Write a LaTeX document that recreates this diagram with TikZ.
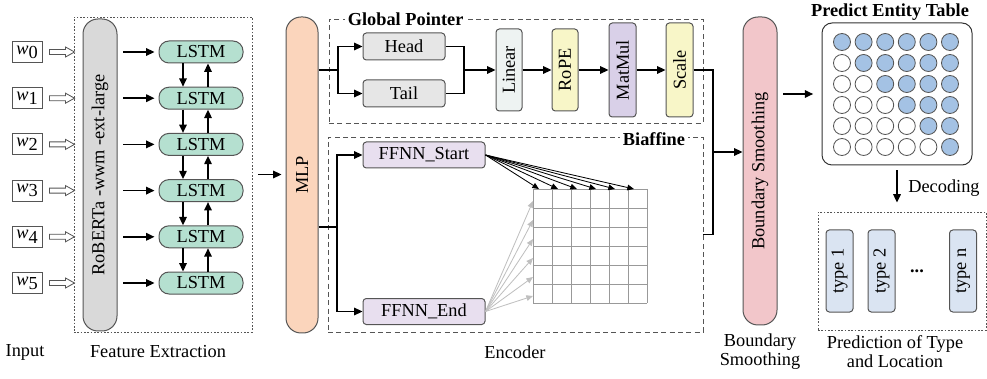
\documentclass[tikz,border=0pt]{standalone}
\usepackage{fontspec}
\setmainfont{Liberation Serif}
\usetikzlibrary{arrows.meta,positioning}

\definecolor{lstmcol}{HTML}{B5E0D0}
\definecolor{bertcol}{HTML}{D9D9D9}
\definecolor{mlpcol}{HTML}{FBD5BC}
\definecolor{htcol}{HTML}{E6E6E6}
\definecolor{lincol}{HTML}{EEF3F2}
\definecolor{ropecol}{HTML}{F8F6C8}
\definecolor{matcol}{HTML}{D9D0E8}
\definecolor{ffnncol}{HTML}{E8DFEF}
\definecolor{bscol}{HTML}{F2C6CA}
\definecolor{cellcol}{HTML}{A4C2E4}
\definecolor{typecol}{HTML}{DAE4F2}
\definecolor{edgecol}{HTML}{555555}

\tikzset{
  box/.style={draw=edgecol, line width=0.6pt, rounded corners=2pt, inner sep=0pt},
  bar/.style={box, rotate=90, rounded corners=9pt, minimum height=20.4pt},
  vbox/.style={box, rotate=90, minimum width=49.2pt, minimum height=15.6pt},
  lstmbox/.style={box, fill=lstmcol, rounded corners=6pt, minimum width=50.4pt, minimum height=13.2pt},
  arr/.style={line width=0.9pt, -{Triangle[length=5pt,width=4.5pt]}},
  thinarr/.style={line width=0.5pt, -{Triangle[length=4pt,width=3.4pt]}},
  dashbox/.style={draw=edgecol, line width=0.5pt, dash pattern=on 3pt off 2pt, inner sep=0pt},
  dotbox/.style={draw=edgecol, line width=0.5pt, dash pattern=on 1pt off 1pt, inner sep=0pt},
  title/.style={font=\fontsize{11}{13}\selectfont\bfseries, fill=white, inner sep=1.5pt},
  hollowarr/.style={draw=edgecol, line width=0.5pt, fill=white}
}

\begin{document}
\begin{tikzpicture}[x=0.6pt, y=-0.6pt, every node/.style={font=\fontsize{11}{13}\selectfont}]
  \useasboundingbox (0,0) rectangle (987,379);

  \node[dotbox, minimum width=106.8pt, minimum height=189pt] (fe) at (163,174.5) {};
  \node[bar, fill=bertcol, minimum width=187.2pt] (bert) at (100,175) {RoBERTa -wwm -ext-large};
  \foreach \i in {0,...,5} {
    \node[box, rounded corners=0pt, minimum width=18pt, minimum height=12.6pt] (w\i) at (27,52+46.2*\i) {\textit{w}\raisebox{-.5ex}{\i}};
    \draw[hollowarr] ([xshift=4.2pt,yshift=1.5pt]w\i.east) -- ++(9.6pt,0) -- ++(0,1.5pt) -- ++(5.4pt,-3pt)
      -- ++(-5.4pt,-3pt) -- ++(0,1.5pt) -- ++(-9.6pt,0) -- cycle;
    \node[lstmbox] (lstm\i) at (201,52+46.2*\i) {LSTM};
    \coordinate (src\i) at (123,52+46.2*\i);
    \draw[arr, shorten >=2.4pt] (src\i) -- (lstm\i);
  }
  \foreach \j [count=\i from 0] in {1,...,5} {
    \draw[arr] ([xshift=-10.8pt]lstm\i.south) -- ([xshift=-10.8pt]lstm\j.north);
    \draw[arr] ([xshift=4.2pt]lstm\j.north) -- ([xshift=4.2pt]lstm\i.south);
  }

  \node[bar, fill=mlpcol, minimum width=189.6pt, minimum height=19.2pt] (mlp) at (302,175) {MLP};
  \draw[arr, shorten <=3.6pt, shorten >=2.4pt] (fe.east) -- (mlp.north |- fe.east);

  \node[dashbox, minimum width=224.4pt, minimum height=62.4pt] (gp) at (516,71) {};
  \node[title, anchor=west] (gptitle) at (345,19) {Global Pointer};
  \node[box, fill=htcol, minimum width=49.2pt, minimum height=16.2pt] (head) at (404,46.5) {Head};
  \node[box, fill=htcol, minimum width=49.2pt, minimum height=16.2pt] (tail) at (404,93.5) {Tail};
  \node[vbox, fill=lincol] (linear) at (509,70) {Linear};
  \node[vbox, fill=ropecol] (rope) at (565,70) {RoPE};
  \node[vbox, fill=matcol, minimum width=56.4pt, minimum height=16.2pt] (matmul) at (622.5,70) {MatMul};
  \node[vbox, fill=ropecol, minimum width=56.4pt, minimum height=16.2pt] (scale) at (679.5,70) {Scale};
  \coordinate (gpsplit) at (338,70);
  \coordinate (gpjoin) at (464,70);
  \draw[line width=0.9pt] (mlp.south |- gpsplit) -- (gpsplit);
  \draw[arr] (gpsplit) |- (head.west);
  \draw[arr] (gpsplit) |- (tail.west);
  \draw[line width=0.9pt] (head.east) -| (gpjoin) |- (tail.east);
  \draw[arr] (gpjoin) -- (linear);
  \draw[arr] (linear) -- (rope);
  \draw[arr] (rope) -- (matmul);
  \draw[arr] (matmul) -- (scale);

  \node[dashbox, minimum width=225pt, minimum height=117pt] (bia) at (515.5,234.5) {};
  \node[title] (biatitle) at (654,139) {Biaffine};
  \node[box, fill=ffnncol, minimum width=73.2pt, minimum height=15.6pt] (fstart) at (424,155) {FFNN\_Start};
  \node[box, fill=ffnncol, minimum width=73.2pt, minimum height=15.6pt] (fend) at (424,311.5) {FFNN\_End};
  \coordinate (bisplit) at (337,227);
  \draw[line width=0.9pt] (mlp.south |- bisplit) -- (bisplit);
  \draw[arr] (bisplit) |- (fstart.west);
  \draw[arr] (bisplit) |- (fend.west);
  \foreach \k in {0,...,6} {
    \draw[gray!80, line width=0.5pt] (533+19*\k,189) -- (533+19*\k,303);
    \draw[gray!80, line width=0.5pt] (533,189+19*\k) -- (647,189+19*\k);
  }
  \foreach \k in {0,...,5} {
    \coordinate (col\k) at (539+19*\k,189);
    \coordinate (row\k) at (533,201+19*\k);
    \draw[thinarr] (fstart.east) -- (col\k);
    \draw[thinarr, gray!50] (fend.east) -- (row\k);
  }

  \node[bar, fill=bscol, minimum width=184.8pt] (bs) at (760,171) {Boundary Smoothing};
  \coordinate (bsjoin) at (713,152);
  \draw[line width=0.9pt] (scale.south) -| (bsjoin) |- (bia.east);
  \draw[arr] (bsjoin) -- (bsjoin -| bs.north);

  \node[draw=black!80, line width=0.6pt, rounded corners=6pt, minimum width=90pt, minimum height=85.2pt] (tab) at (897,94) {};
  \node[title, fill=none] (tabtitle) at (890,12) {Predict Entity Table};
  \foreach \i in {0,...,5}
    \foreach \j in {0,...,5} {
      \ifnum\j<\i \def\cellfill{white}\else \def\cellfill{cellcol}\fi
      \draw[draw=edgecol, line width=0.5pt, fill=\cellfill] (842+21.6*\j,42+21*\i) circle[radius=5.1pt];
    }
  \coordinate (tabin) at (783,94);
  \draw[arr, shorten >=5pt] (tabin) -- (tab.west);

  \node[dotbox, minimum width=100.8pt, minimum height=70.8pt] (pred) at (902,271) {};
  \draw[arr, shorten <=3pt, shorten >=5.4pt] (tab.south) -- (tab.south |- pred.north) node[midway, right=3pt] (declab) {Decoding};
  \node[vbox, fill=typecol, minimum height=16.2pt] (type1) at (839.5,271) {type 1};
  \node[vbox, fill=typecol, minimum height=16.2pt] (type2) at (881.5,271) {type 2};
  \node (dots) at (917,271) {\textbf{...}};
  \node[vbox, fill=typecol, minimum height=16.2pt] (typen) at (963,271) {type n};

  \node (inlab) at (25,352) {Input};
  \node (felab) at (158,352) {Feature Extraction};
  \node (enclab) at (515,352) {Encoder};
  \node[align=center, font=\fontsize{11}{11.5}\selectfont] (bslab) at (760,351.5) {Boundary\\Smoothing};
  \node[align=center, font=\fontsize{11}{11.5}\selectfont] (predlab) at (895,351.5) {Prediction of Type\\and Location};
\end{tikzpicture}
\end{document}
